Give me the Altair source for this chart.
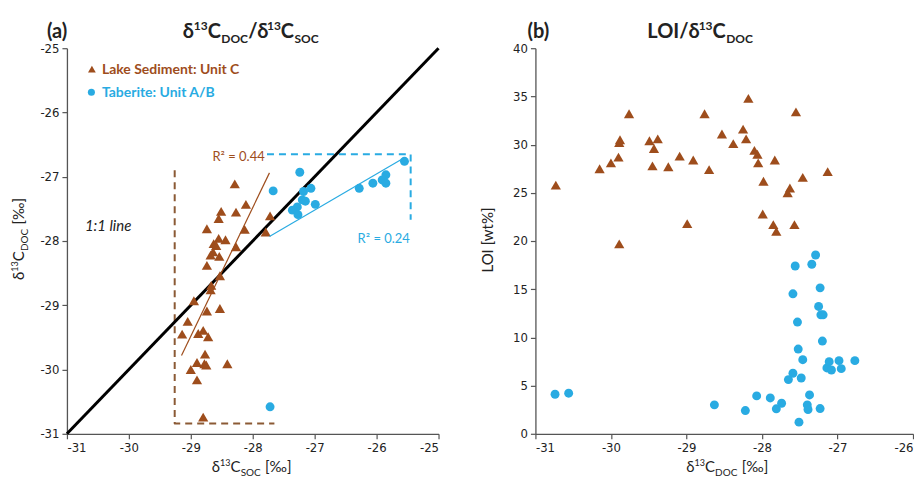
import altair as alt
import pandas as pd

# ---------------- data ----------------
# Panel (a): d13C SOC (x) vs d13C DOC (y)
lake_soc = [-28.29, -28.11, -28.51, -28.27, -28.55, -27.72, -28.74, -28.13, -28.55, -28.44,
            -28.63, -28.59, -28.27, -27.79, -28.64, -28.68, -28.54, -28.74, -28.53, -28.67,
            -28.68, -28.95, -28.74, -28.53, -29.05, -29.14, -28.88, -28.80, -28.72, -28.77,
            -28.90, -28.78, -28.75, -28.41, -29.00, -28.90, -28.80]
lake_doc = [-27.11, -27.43, -27.54, -27.55, -27.65, -27.61, -27.81, -27.82, -27.96, -27.98,
            -28.04, -28.07, -28.09, -27.86, -28.17, -28.22, -28.24, -28.38, -28.54, -28.69,
            -28.76, -28.93, -29.09, -29.05, -29.25, -29.45, -29.44, -29.39, -29.49, -29.76,
            -29.89, -29.91, -29.93, -29.91, -30.00, -30.16, -30.74]
tab_soc = [-27.24, -27.67, -27.18, -27.06, -27.20, -27.15, -26.99, -27.28, -27.36, -27.27,
           -26.28, -26.06, -25.91, -25.85, -25.85, -25.55, -27.72]
tab_doc = [-26.93, -27.22, -27.23, -27.18, -27.36, -27.38, -27.43, -27.47, -27.52, -27.59,
           -27.18, -27.10, -27.05, -26.97, -27.10, -26.76, -30.58]

line11_x = [-31, -25]
line11_y = [-31, -25]
fit_lake_x = [-29.15, -27.73]
fit_lake_y = [-29.78, -26.94]
fit_tab_x = [-27.73, -25.56]
fit_tab_y = [-27.93, -26.71]
box_lake_x = [-29.26, -29.26, -27.65]
box_lake_y = [-26.90, -30.84, -30.84]
box_tab_x = [-27.77, -25.45, -25.45]
box_tab_y = [-26.65, -26.65, -27.67]

# Panel (b): d13C DOC (x) vs LOI (y)
lake2_doc = [-30.73, -30.15, -30.00, -29.90, -29.89, -29.88, -29.76, -29.49, -29.43, -29.45,
             -29.38, -29.24, -29.09, -28.91, -28.76, -28.70, -28.53, -28.38, -28.25, -28.21,
             -28.18, -28.10, -28.06, -28.05, -27.83, -27.98, -27.46, -27.13, -27.63, -27.66,
             -27.99, -27.85, -27.57, -27.81, -27.55, -29.89, -28.99]
lake2_loi = [25.8, 27.5, 28.1, 28.7, 30.2, 30.5, 33.2, 30.4, 29.6, 27.8,
             30.6, 27.7, 28.8, 28.4, 33.2, 27.4, 31.1, 30.1, 31.6, 30.6,
             34.8, 29.4, 29.0, 28.1, 28.4, 26.2, 26.6, 27.2, 25.5, 25.0,
             22.8, 21.7, 21.7, 21.0, 33.4, 19.7, 21.8]
tab2_doc = [-30.74, -30.56, -28.63, -28.22, -28.07, -27.89, -27.81, -27.74, -27.65, -27.59,
            -27.59, -27.56, -27.53, -27.52, -27.51, -27.48, -27.46, -27.40, -27.39, -27.37,
            -27.34, -27.29, -27.25, -27.23, -27.23, -27.22, -27.19, -27.20, -27.14, -27.11,
            -27.08, -26.98, -26.95, -26.77]
tab2_loi = [4.10, 4.21, 3.00, 2.41, 3.93, 3.72, 2.59, 3.17, 5.62, 6.28,
            14.52, 17.41, 11.59, 8.79, 1.21, 5.79, 7.69, 3.00, 2.52, 4.03,
            17.59, 18.55, 13.21, 15.14, 2.62, 12.34, 12.34, 9.62, 6.83, 7.48,
            6.62, 7.59, 6.76, 7.59]

ticks_a = [-31, -30, -29, -28, -27, -26, -25]
ticks_bx = [-31, -30, -29, -28, -27, -26]
ticks_by = [0, 5, 10, 15, 20, 25, 30, 35, 40]

legend_labels = ["Lake Sediment: Unit C", "Taberite: Unit A/B"]
r2_labels = ["R\u00b2 = 0.44", "R\u00b2 = 0.24"]

# ---------------- styles ----------------
BROWN = "#9E4D1C"
BROWN_DASH = "#8B5A35"
BLUE = "#29ABE2"
TICKFONT = "Liberation Sans Narrow, DejaVu Sans Condensed, Lato, sans-serif"
BOLDFONT = "Lato, Open Sans, sans-serif"
TXTFONT = "Lato, Open Sans, sans-serif"

LW, LH = 372, 386
RW, RH = 378, 386

one = pd.DataFrame({"k": [0]})

W = {'δ': 0.55, '1': 0.58, '3': 0.58, 'C': 0.68, 'D': 0.77, 'O': 0.81, 'S': 0.55, '/': 0.38,
     'L': 0.54, 'I': 0.29, ' ': 0.26, '[': 0.32, ']': 0.32, '‰': 1.05, 'w': 0.76, 't': 0.36, '%': 0.79}


def tw(s, size):
    return sum(W.get(c, 0.55) for c in s) * size


def txt(t, x, y, size=13, weight="normal", color="#222222", angle=0, align="left",
        baseline="alphabetic", font=TXTFONT, style="normal"):
    return alt.Chart(one).mark_text(
        text=t, fontSize=size, fontWeight=weight, color=color, angle=angle, align=align,
        baseline=baseline, font=font, fontStyle=style
    ).encode(x=alt.value(x), y=alt.value(y))


def rich(pieces, x, y, angle=0, weight="normal", color="#222222", font=TXTFONT):
    """pieces: (text, size, baseline shift); text None means a gap of `size` px."""
    out = []
    pos = 0.0
    for t, size, shift in pieces:
        if t is None:
            pos += size
            continue
        if angle == 0:
            px, py = x + pos, y + shift
        else:
            px, py = x + shift, y - pos
        out.append(txt(t, px, py, size=size, weight=weight, color=color, angle=angle, font=font))
        pos += tw(t, size)
    return out


def frame(xs, ys):
    return pd.DataFrame({"x": xs, "y": ys, "o": list(range(len(xs)))})


def enc_a():
    return dict(
        x=alt.X("x:Q", scale=alt.Scale(domain=[-31, -25], nice=False, zero=False),
                axis=alt.Axis(values=ticks_a, title=None, labelExpr="datum.value + ''")),
        y=alt.Y("y:Q", scale=alt.Scale(domain=[-31, -25], nice=False, zero=False),
                axis=alt.Axis(values=ticks_a, title=None, labelExpr="datum.value + ''")),
    )


def enc_b():
    return dict(
        x=alt.X("x:Q", scale=alt.Scale(domain=[-31, -26], nice=False, zero=False),
                axis=alt.Axis(values=ticks_bx, title=None, labelExpr="datum.value + ''")),
        y=alt.Y("y:Q", scale=alt.Scale(domain=[0, 40], nice=False, zero=False),
                axis=alt.Axis(values=ticks_by, title=None, labelExpr="datum.value + ''")),
    )


# ---------------- panel (a) ----------------
a_layers = []
a_layers.append(alt.Chart(frame(box_lake_x, box_lake_y)).mark_line(
    color=BROWN_DASH, strokeWidth=2, strokeDash=[7, 5], strokeJoin="round").encode(order="o:Q", **enc_a()))
a_layers.append(alt.Chart(frame(box_tab_x, box_tab_y)).mark_line(
    color=BLUE, strokeWidth=2, strokeDash=[7, 5], strokeJoin="round").encode(order="o:Q", **enc_a()))
a_layers.append(alt.Chart(frame(line11_x, line11_y)).mark_line(
    color="black", strokeWidth=3).encode(order="o:Q", **enc_a()))
a_layers.append(alt.Chart(frame(lake_soc, lake_doc)).mark_point(
    shape="triangle-up", filled=True, size=105, opacity=1, color=BROWN).encode(**enc_a()))
a_layers.append(alt.Chart(frame(tab_soc, tab_doc)).mark_point(
    shape="circle", filled=True, size=80, opacity=1, color=BLUE).encode(**enc_a()))
a_layers.append(alt.Chart(frame(fit_lake_x, fit_lake_y)).mark_line(
    color=BROWN, strokeWidth=1.2).encode(order="o:Q", **enc_a()))
a_layers.append(alt.Chart(frame(fit_tab_x, fit_tab_y)).mark_line(
    color=BLUE, strokeWidth=1.2).encode(order="o:Q", **enc_a()))

# anchor so the chart's top-left is at the page origin
a_layers.append(alt.Chart(one).mark_rect(opacity=0).encode(
    x=alt.value(-59), x2=alt.value(-58), y=alt.value(-40), y2=alt.value(-39)))

# titles
a_layers.append(txt("(a)", -20, -10, size=20, weight="bold", font=BOLDFONT))
a_layers += rich([("δ", 20, 0), ("13", 12, -8), ("C", 20, 0), ("DOC", 12, 5), ("/δ", 20, 0),
                  ("13", 12, -8), ("C", 20, 0), ("SOC", 12, 5)], 116, -10,
                 weight="bold", font=BOLDFONT)
# legend
a_layers.append(alt.Chart(one).mark_point(shape="triangle-up", filled=True, size=60, opacity=1,
                                          color=BROWN).encode(x=alt.value(25), y=alt.value(21)))
a_layers.append(alt.Chart(one).mark_point(shape="circle", filled=True, size=50, opacity=1,
                                          color=BLUE).encode(x=alt.value(24.5), y=alt.value(44)))
a_layers.append(txt(legend_labels[0], 35, 26, size=14, weight="bold", color=BROWN, font=BOLDFONT))
a_layers.append(txt(legend_labels[1], 35, 49, size=14, weight="bold", color=BLUE, font=BOLDFONT))
# annotations
a_layers.append(txt("1:1 line", 18, 183, size=15, style="italic", color="#222222"))
a_layers.append(txt(r2_labels[0], 198, 113, size=13, color=BROWN, align="right"))
a_layers.append(txt(r2_labels[1], 291, 195, size=13, color=BLUE))
# axis titles
a_layers += rich([("δ", 15, 0), ("13", 9, -6), ("C", 15, 0), ("SOC", 10, 4), (None, 4, 0),
                  ("[‰]", 15, 0)], 145, 424)
a_layers += rich([("δ", 15, 0), ("13", 9, -6), ("C", 15, 0), ("DOC", 10, 4), (None, 4, 0),
                  ("[‰]", 15, 0)], -43, 232, angle=270)

panel_a = alt.layer(*a_layers).properties(width=LW, height=LH)

# ---------------- panel (b) ----------------
b_layers = []
b_layers.append(alt.Chart(frame(lake2_doc, lake2_loi)).mark_point(
    shape="triangle-up", filled=True, size=105, opacity=1, color=BROWN).encode(**enc_b()))
b_layers.append(alt.Chart(frame(tab2_doc, tab2_loi)).mark_point(
    shape="circle", filled=True, size=80, opacity=1, color=BLUE).encode(**enc_b()))
b_layers.append(txt("(b)", -8, -10, size=20, weight="bold", font=BOLDFONT))
b_layers += rich([("LOI/δ", 20, 0), ("13", 12, -8), ("C", 20, 0), ("DOC", 12, 5)], 112, -10,
                 weight="bold", font=BOLDFONT)
b_layers += rich([("δ", 15, 0), ("13", 9, -6), ("C", 15, 0), ("DOC", 10, 4), (None, 4, 0),
                  ("[‰]", 15, 0)], 151, 424)
b_layers.append(txt("LOI [wt%]", -42, 192, size=15, angle=270, align="center"))

panel_b = alt.layer(*b_layers).properties(width=RW, height=RH)

chart = alt.hconcat(panel_a, panel_b, spacing=97, bounds="flush").properties(
    padding=0
).configure_view(stroke=None).configure_axis(
    grid=False, domainColor="#555555", tickColor="#555555", domainWidth=1.3, tickWidth=1.2,
    tickSize=5, labelColor="#222222", labelFont=TICKFONT, labelFontSize=13, labelPadding=3
)

chart.save("out.html", embed_options={"renderer": "svg", "actions": False})
